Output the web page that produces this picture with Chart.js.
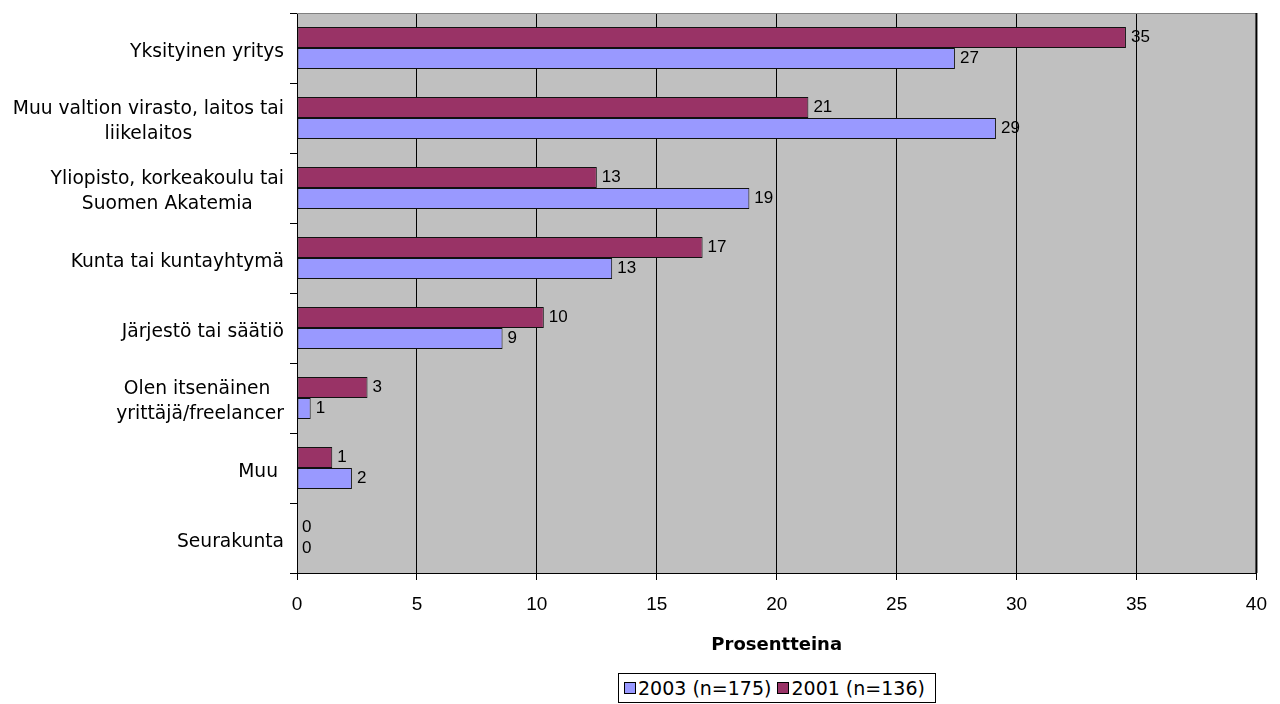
<!DOCTYPE html>
<html>
<head>
<meta charset="utf-8">
<script src="https://cdn.jsdelivr.net/npm/chart.js@4.4.1/dist/chart.umd.min.js"></script>
<style>
  html, body { margin: 0; padding: 0; background: #fff; }
  #wrap { position: relative; width: 1280px; height: 704px; }
  #legend {
    position: absolute; left: 618px; top: 673px; width: 318px; height: 30px;
    border: 1px solid #000; box-sizing: border-box; background: #fff;
    font: 19px "DejaVu Sans", sans-serif; color: #000;
    display: flex; align-items: center; padding-left: 5px; white-space: nowrap;
  }
  #legend .sw { display: inline-block; width: 10px; height: 10px; border: 1px solid #000; margin-right: 2px; }
  #legend .item { display: flex; align-items: center; margin-right: 6px; }
</style>
</head>
<body>
<div id="wrap">
  <canvas id="chart" width="1280" height="704"></canvas>
  <div id="legend"></div>
</div>
<script>
// categories, top to bottom
var categories = [
  ['Yksityinen yritys'],
  ['Muu valtion virasto, laitos tai', 'liikelaitos'],
  ['Yliopisto, korkeakoulu tai', 'Suomen Akatemia'],
  ['Kunta tai kuntayhtymä'],
  ['Järjestö tai säätiö'],
  ['Olen itsenäinen ', 'yrittäjä/freelancer'],
  ['Muu '],
  ['Seurakunta']
];
// percentages
var values2001 = [34.56, 21.32, 12.50, 16.91, 10.29, 2.94, 1.47, 0];
var values2003 = [27.43, 29.14, 18.86, 13.14, 8.57, 0.57, 2.29, 0];
var seriesNames = ['2001 (n=136)', '2003 (n=175)'];
var seriesColors = ['#993366', '#9999FF'];
var xMin = 0, xMax = 40, xStep = 5;

var labelFont = '"DejaVu Sans", sans-serif';
var numFont = '"Liberation Sans", Arial, sans-serif';

// grey plot area and frame
var plotArea = {
  id: 'plotArea',
  beforeDraw: function(chart) {
    var a = chart.chartArea, c = chart.ctx;
    c.save();
    c.fillStyle = '#C0C0C0';
    c.fillRect(a.left, a.top, a.right - a.left, a.bottom - a.top);
    c.restore();
  },
  afterDraw: function(chart) {
    var a = chart.chartArea, c = chart.ctx;
    c.save();
    c.strokeStyle = '#808080';
    c.lineWidth = 1;
    c.beginPath();
    c.moveTo(a.left, a.top + 0.5);
    c.lineTo(a.right, a.top + 0.5);
    c.stroke();
    c.strokeStyle = '#000';
    c.lineWidth = 2;
    c.beginPath();
    c.moveTo(a.right, a.top);
    c.lineTo(a.right, a.bottom);
    c.stroke();
    c.restore();
  }
};

// value labels at bar ends
var barLabels = {
  id: 'barLabels',
  afterDatasetsDraw: function(chart) {
    var c = chart.ctx;
    c.save();
    c.fillStyle = '#000';
    c.font = '17px ' + numFont;
    c.textAlign = 'left';
    c.textBaseline = 'middle';
    chart.data.datasets.forEach(function(ds, di) {
      chart.getDatasetMeta(di).data.forEach(function(bar, i) {
        c.fillText(String(Math.round(ds.data[i])), bar.x + 5, bar.y);
      });
    });
    c.restore();
  }
};

// category labels: block right aligned, lines centred
var catLabels = {
  id: 'catLabels',
  afterDraw: function(chart) {
    var c = chart.ctx, y = chart.scales.y;
    var right = chart.chartArea.left - 13, lh = 25;
    c.save();
    c.fillStyle = '#000';
    c.font = '18.7px ' + labelFont;
    c.textAlign = 'center';
    c.textBaseline = 'middle';
    categories.forEach(function(lines, i) {
      var w = 0;
      lines.forEach(function(t) { w = Math.max(w, c.measureText(t).width); });
      var cx = right - w / 2;
      var cy = y.getPixelForValue(i) + 4 - (lines.length - 1) * lh / 2;
      lines.forEach(function(t, k) { c.fillText(t, cx, cy + k * lh); });
    });
    c.restore();
  }
};

var ctx = document.getElementById('chart').getContext('2d');
var chart = new Chart(ctx, {
  type: 'bar',
  data: {
    labels: categories,
    datasets: [{
      label: seriesNames[0],
      data: values2001,
      backgroundColor: seriesColors[0],
      borderColor: '#111',
      borderWidth: 1,
      borderSkipped: false,
      categoryPercentage: 0.6,
      barPercentage: 1
    }, {
      label: seriesNames[1],
      data: values2003,
      backgroundColor: seriesColors[1],
      borderColor: '#111',
      borderWidth: 1,
      borderSkipped: false,
      categoryPercentage: 0.6,
      barPercentage: 1
    }]
  },
  options: {
    indexAxis: 'y',
    responsive: false,
    animation: false,
    layout: { padding: { top: 13, right: 23, left: 0, bottom: 0 } },
    plugins: { legend: { display: false }, tooltip: { enabled: false } },
    scales: {
      x: {
        min: xMin,
        max: xMax,
        ticks: { stepSize: xStep, color: '#000', padding: 13, font: { family: numFont, size: 19 } },
        grid: { color: '#000', tickLength: 7 },
        border: { color: '#000' },
        title: {
          display: true,
          text: 'Prosentteina',
          color: '#000',
          font: { family: labelFont, size: 18, weight: 'bold' },
          padding: { top: 0, bottom: 48 }
        },
        afterFit: function(s) { s.height = 131; }
      },
      y: {
        ticks: { display: false },
        grid: { drawOnChartArea: false, color: '#000', tickLength: 7 },
        border: { color: '#000' },
        afterFit: function(s) { s.width = 297; }
      }
    }
  },
  plugins: [plotArea, barLabels, catLabels]
});

// legend: 2003 first, like the original
var legend = document.getElementById('legend');
[1, 0].forEach(function(i) {
  var item = document.createElement('span');
  item.className = 'item';
  var sw = document.createElement('span');
  sw.className = 'sw';
  sw.style.background = seriesColors[i];
  item.appendChild(sw);
  item.appendChild(document.createTextNode(seriesNames[i]));
  legend.appendChild(item);
});
</script>
</body>
</html>
